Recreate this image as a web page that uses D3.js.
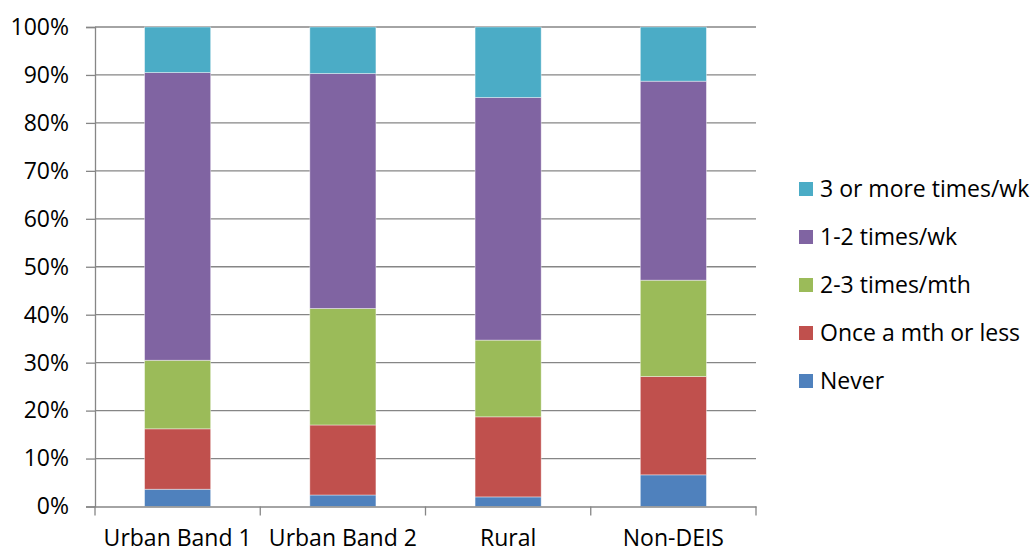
<!DOCTYPE html>
<html><head><meta charset="utf-8">
<script src="https://cdn.jsdelivr.net/npm/d3@7"></script>
<style>html,body{margin:0;padding:0;background:#fff;}svg{display:block;font-family:"Open Sans",sans-serif;}</style>
</head><body>
<svg id="c" width="1034" height="552"></svg>
<script>
const categories = ["Urban Band 1", "Urban Band 2", "Rural", "Non-DEIS"];
const seriesNames = ["Never", "Once a mth or less", "2-3 times/mth", "1-2 times/wk", "3 or more times/wk"];
const never = [3.6, 2.4, 2.0, 6.6];
const onceMth = [12.6, 14.6, 16.7, 20.5];
const twoThreeMth = [14.3, 24.3, 16.0, 20.1];
const oneTwoWk = [60.0, 49.0, 50.6, 41.5];
const threePlusWk = [9.5, 9.7, 14.7, 11.3];
const yTicks = [0, 10, 20, 30, 40, 50, 60, 70, 80, 90, 100];
const colors = ["#4F81BD", "#C0504D", "#9BBB59", "#8064A2", "#4BACC6"];

(function () {
const FONT = "Open Sans", FS = "23px";
const seriesVals = [never, onceMth, twoThreeMth, oneTwoWk, threePlusWk];
const rows = categories.map((c, i) => {
  const r = {cat: c};
  seriesNames.forEach((s, j) => r[s] = seriesVals[j][i]);
  return r;
});
const stack = d3.stack().keys(seriesNames)(rows);

const svg = d3.select("#c");
const mL = 95, mR = 756, mT = 27, mB = 506.5;
const x = d3.scaleBand().domain(categories).range([mL, mR]).paddingInner(0.6).paddingOuter(0.3);
const y = d3.scaleLinear().domain([0, 100]).range([mB, mT]);
const grid = "#868686";

svg.append("g").selectAll("line").data(yTicks.filter(t => t > 0)).join("line")
  .attr("x1", mL).attr("x2", mR).attr("y1", d => y(d)).attr("y2", d => y(d))
  .attr("stroke", grid).attr("stroke-width", 1.3);

const color = d3.scaleOrdinal().domain(seriesNames).range(colors);
svg.append("g").selectAll("g").data(stack).join("g")
  .attr("fill", d => color(d.key))
  .selectAll("rect").data(d => d).join("rect")
  .attr("x", d => x(d.data.cat))
  .attr("width", x.bandwidth())
  .attr("y", d => y(d[1]))
  .attr("height", d => y(d[0]) - y(d[1]))
  .attr("stroke", "#fff").attr("stroke-opacity", 0.5).attr("stroke-width", 0.8);

const yAxis = d3.axisLeft(y).tickValues(yTicks).tickFormat(d => d + "%").tickSize(9).tickPadding(17);
const ya = svg.append("g").attr("transform", `translate(${mL},0)`).call(yAxis);
ya.select(".domain").attr("stroke", grid).attr("stroke-width", 1.3);
ya.selectAll(".tick line").attr("stroke", grid).attr("stroke-width", 1.3);
ya.selectAll("text").attr("fill", "#000").style("font-size", FS).style("font-family", FONT);

const xAxis = d3.axisBottom(x).tickSize(0).tickPadding(23);
const xa = svg.append("g").attr("transform", `translate(0,${mB})`).call(xAxis);
xa.select(".domain").attr("stroke", grid).attr("stroke-width", 1.3);
xa.selectAll("text").attr("fill", "#000").style("font-size", FS).style("font-family", FONT);

const edges = d3.range(categories.length + 1).map(i => mL + i * (mR - mL) / categories.length);
svg.append("g").selectAll("line").data(edges).join("line")
  .attr("x1", d => d).attr("x2", d => d).attr("y1", mB).attr("y2", mB + 9)
  .attr("stroke", grid).attr("stroke-width", 1.3);

const legendOrder = seriesNames.slice().reverse();
const lg = svg.append("g").selectAll("g").data(legendOrder).join("g")
  .attr("transform", (d, i) => `translate(799,${189 + i * 48})`);
lg.append("rect").attr("x", 0).attr("y", -7).attr("width", 14).attr("height", 14).attr("fill", d => color(d));
lg.append("text").attr("x", 21).attr("y", 0).attr("dy", "0.36em").text(d => d)
  .style("font-size", FS).style("font-family", FONT).attr("fill", "#000");
})();
</script>
</body></html>
